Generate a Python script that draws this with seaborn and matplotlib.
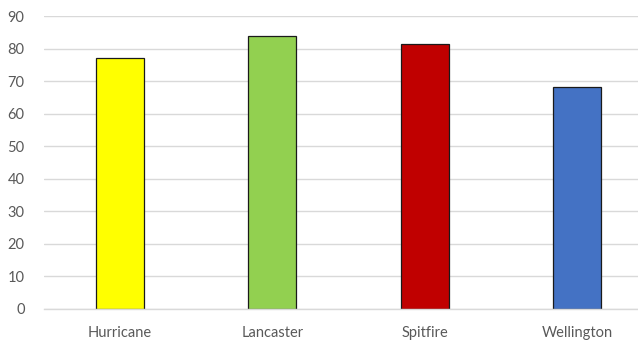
import numpy as np
import pandas as pd
import seaborn as sns
import matplotlib.pyplot as plt

# data
aircraft = ['Hurricane', 'Lancaster', 'Spitfire', 'Wellington']
values = [77.2, 84.0, 81.4, 68.3]
colors = ['#FFFF00', '#92D050', '#C00000', '#4472C4']

df = pd.DataFrame({'aircraft': aircraft, 'value': values})

sns.set_style('white')
plt.rcParams['font.family'] = ['Lato', 'DejaVu Sans']

fig = plt.figure(figsize=(6.38, 3.40), dpi=100)
ax = fig.add_axes([44 / 638, 31 / 340, 594 / 638, 293 / 340])

sns.barplot(data=df, x='aircraft', y='value', hue='aircraft', palette=colors,
            saturation=1, width=0.315, edgecolor='#1a1a1a', linewidth=0.9,
            legend=False, ax=ax)

ax.set_ylim(0, 90)
ax.set_xlim(-0.5, 3.4)
ax.set_yticks(range(0, 91, 10))
ax.yaxis.grid(True, color='#d9d9d9', linewidth=1)
ax.set_axisbelow(True)
for s in ['top', 'right', 'left']:
    ax.spines[s].set_visible(False)
ax.spines['bottom'].set_color('#d9d9d9')
ax.spines['bottom'].set_linewidth(1)
ax.tick_params(axis='both', length=0, colors='#595959', labelsize=10.5)
ax.tick_params(axis='x', pad=12)
ax.tick_params(axis='y', pad=14)
ax.set_xlabel('')
ax.set_ylabel('')

fig.savefig('out.png', dpi=100)
